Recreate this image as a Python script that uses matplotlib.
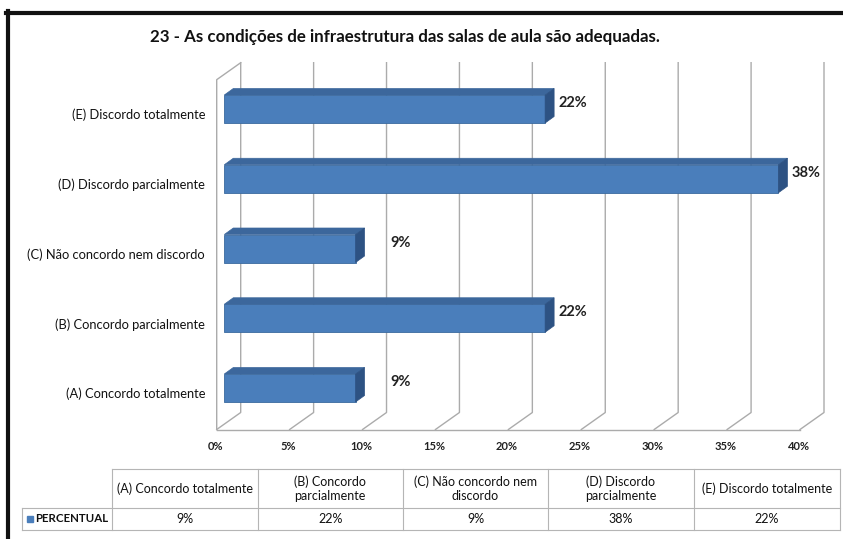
import matplotlib
matplotlib.use('Agg')
import matplotlib.pyplot as plt
from matplotlib.patches import Polygon, Rectangle
from matplotlib.lines import Line2D

plt.rcParams['font.family'] = ['Lato', 'DejaVu Sans']

title = '23 - As condições de infraestrutura das salas de aula são adequadas.'
categories = ['(A) Concordo totalmente', '(B) Concordo parcialmente',
              '(C) Não concordo nem discordo', '(D) Discordo parcialmente',
              '(E) Discordo totalmente']
table_headers = ['(A) Concordo totalmente', '(B) Concordo\nparcialmente',
                 '(C) Não concordo nem\ndiscordo', '(D) Discordo\nparcialmente',
                 '(E) Discordo totalmente']
percentual = [9, 22, 9, 38, 22]
x_ticks = [0, 5, 10, 15, 20, 25, 30, 35, 40]
series_name = 'PERCENTUAL'

W, H = 843, 539
front_c = '#4A7EBB'
top_c = '#3C679C'
side_c = '#2D5283'
grid_c = '#ABABAB'

fig = plt.figure(figsize=(W / 100, H / 100), dpi=100)
fig.patch.set_facecolor('white')


def fx(px):
    return px / W


def fy(py):
    return 1 - py / H


# plot area (front face of bars), pixels
left, right, top, bottom = 224.3, 807.6, 62.7, 429.5
ax = fig.add_axes([fx(left), fy(bottom), fx(right - left), (bottom - top) / H])
ymin, ymax = -0.595, 4.664
ax.set_xlim(0, 40)
ax.set_ylim(ymin, ymax)
ax.axis('off')

sx = (right - left) / 40
sy = (bottom - top) / (ymax - ymin)

# walls / gridlines
fo = -7.6 / sx
dep_x, dep_y = 24 / sx, 17 / sy
for t in x_ticks:
    ax.add_line(Line2D([t + fo, t + fo + dep_x, t + fo + dep_x],
                       [ymin, ymin + dep_y, ymax], color=grid_c, lw=1,
                       clip_on=False, zorder=1))
ax.add_line(Line2D([fo, fo, fo + dep_x], [ymin, ymax - dep_y, ymax],
                   color=grid_c, lw=1, clip_on=False, zorder=1))
ax.add_line(Line2D([fo, 40 + fo], [ymin, ymin], color=grid_c, lw=1,
                   clip_on=False, zorder=1))

for t in x_ticks:
    ax.text(t + fo - 1.5 / sx, ymin - 17.5 / sy, f'{t}%', ha='center',
            va='center', fontsize=8, fontweight='bold', color='#222222')

# bars
ypos = list(range(len(categories)))
bh = 28 / sy
bdx, bdy = 9 / sx, 6.5 / sy
ax.barh(ypos, percentual, height=bh, color=front_c, edgecolor='#3A6A9F',
        lw=0.6, zorder=3)
for y, v, name in zip(ypos, percentual, categories):
    yt = y + bh / 2
    yb = y - bh / 2
    ax.add_patch(Polygon([(0, yt), (v, yt), (v + bdx, yt + bdy), (bdx, yt + bdy)],
                         closed=True, facecolor=top_c, edgecolor=top_c, lw=0.5,
                         zorder=3))
    ax.add_patch(Polygon([(v, yb), (v + bdx, yb + bdy), (v + bdx, yt + bdy), (v, yt)],
                         closed=True, facecolor=side_c, edgecolor=side_c, lw=0.5,
                         zorder=3))
    ax.text(max(v + 1.9, 12.1), y + 6 / sy, f'{v}%', ha='center', va='center',
            fontsize=10.5, fontweight='bold', color='#222222')
    ax.text(-19.3 / sx, y - 6 / sy, name, ha='right', va='center',
            fontsize=9.3, color='#111111')

fig.text(fx(405), fy(37), title, ha='center', va='center', fontsize=12.2,
         fontweight='bold', color='#111111')

# data table
cols = [22, 112.5, 257.5, 403, 548, 694, 840]
r0, r1, r2 = 469, 508, 530
tl = dict(color='#B5B5B5', lw=0.8)
fig.add_artist(Line2D([fx(cols[1]), fx(cols[-1])], [fy(r0), fy(r0)], **tl))
fig.add_artist(Line2D([fx(cols[0]), fx(cols[-1])], [fy(r1), fy(r1)], **tl))
fig.add_artist(Line2D([fx(cols[0]), fx(cols[-1])], [fy(r2), fy(r2)], **tl))
fig.add_artist(Line2D([fx(cols[0]), fx(cols[0])], [fy(r1), fy(r2)], **tl))
for c in cols[1:]:
    fig.add_artist(Line2D([fx(c), fx(c)], [fy(r0), fy(r2)], **tl))
for i, (hdr, v) in enumerate(zip(table_headers, percentual)):
    cx = (cols[i + 1] + cols[i + 2]) / 2
    fig.text(fx(cx), fy((r0 + r1) / 2), hdr, ha='center', va='center',
             fontsize=9, color='#111111', linespacing=1.25)
    fig.text(fx(cx), fy((r1 + r2) / 2), f'{v}%', ha='center', va='center',
             fontsize=9, color='#111111')
fig.add_artist(Rectangle((fx(26.5), fy(521.5)), 6 / W, 6 / H, color=front_c))
fig.text(fx(35.5), fy((r1 + r2) / 2), series_name, ha='left', va='center',
         fontsize=8.3, fontweight='bold', color='#111111')

# outer black frame (top and left edges)
fig.add_artist(Line2D([fx(6), fx(W)], [fy(13), fy(13)], color='#111111', lw=3))
fig.add_artist(Line2D([fx(8), fx(8)], [fy(11), fy(H)], color='#111111', lw=3))

fig.savefig('out.png', dpi=100)
